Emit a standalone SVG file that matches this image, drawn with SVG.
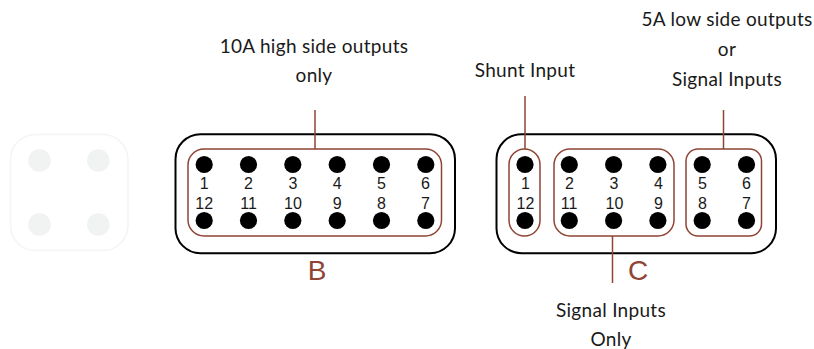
<svg xmlns="http://www.w3.org/2000/svg" width="814" height="349" viewBox="0 0 814 349">
<style>
.body{fill:#fff;stroke:#000;stroke-width:2}
.grp{fill:none;stroke:#8f4434;stroke-width:1.5}
.lead{fill:none;stroke:#8f4434;stroke-width:1.5}
.pin{fill:#000}
.ghost{fill:#f1f2f2}
.num{font-family:"Liberation Sans",Arial,sans-serif;font-size:16px;fill:#1a1a1a;text-anchor:middle}
.lab{font-family:Lato,"Liberation Sans",sans-serif;font-size:19px;letter-spacing:.3px;fill:#1a1a1a;text-anchor:middle}
.big{font-family:"Liberation Sans",Arial,sans-serif;font-size:28px;fill:#8f4434;text-anchor:middle}
</style>
<g id="ghost-connector">
<rect x="10.5" y="134.5" width="117.5" height="116" rx="25" fill="#fff" stroke="#f3f4f4" stroke-width="1.5"/>
<circle class="ghost" cx="39.5" cy="160.5" r="11.3"/><circle class="ghost" cx="98.3" cy="160.5" r="11.3"/>
<circle class="ghost" cx="39.5" cy="224.5" r="11.3"/><circle class="ghost" cx="98.3" cy="224.5" r="11.3"/>
</g>
<g id="connector-b">
<rect class="body" x="175.5" y="134.2" width="279.5" height="119" rx="25"/>
<rect class="grp" x="188" y="149" width="253.5" height="87" rx="16"/>
<g class="pin">
<circle cx="204.2" cy="164.5" r="8.6"/><circle cx="248.5" cy="164.5" r="8.6"/><circle cx="292.8" cy="164.5" r="8.6"/><circle cx="337.2" cy="164.5" r="8.6"/><circle cx="381.5" cy="164.5" r="8.6"/><circle cx="425.8" cy="164.5" r="8.6"/>
<circle cx="204.2" cy="220.5" r="8.6"/><circle cx="248.5" cy="220.5" r="8.6"/><circle cx="292.8" cy="220.5" r="8.6"/><circle cx="337.2" cy="220.5" r="8.6"/><circle cx="381.5" cy="220.5" r="8.6"/><circle cx="425.8" cy="220.5" r="8.6"/>
</g>
<g class="num">
<text x="204.2" y="188.5">1</text><text x="248.5" y="188.5">2</text><text x="293" y="188.5">3</text><text x="337.2" y="188.5">4</text><text x="381.5" y="188.5">5</text><text x="425.5" y="188.5">6</text>
<text x="204.2" y="209">12</text><text x="248.5" y="209">11</text><text x="293" y="209">10</text><text x="337.2" y="209">9</text><text x="381.5" y="209">8</text><text x="425.5" y="209">7</text>
</g>
<text class="big" x="317" y="280">B</text>
</g>
<g id="connector-c">
<rect class="body" x="496.5" y="134.2" width="279.5" height="119" rx="25"/>
<rect class="grp" x="509" y="149" width="31" height="87" rx="15.5"/>
<rect class="grp" x="554" y="149" width="120" height="87" rx="16"/>
<rect class="grp" x="686" y="149" width="75.5" height="87" rx="12"/>
<g class="pin">
<circle cx="525" cy="164.5" r="8.6"/><circle cx="569.3" cy="164.5" r="8.6"/><circle cx="613.6" cy="164.5" r="8.6"/><circle cx="657.9" cy="164.5" r="8.6"/><circle cx="702.2" cy="164.5" r="8.6"/><circle cx="746.5" cy="164.5" r="8.6"/>
<circle cx="525" cy="220.5" r="8.6"/><circle cx="569.3" cy="220.5" r="8.6"/><circle cx="613.6" cy="220.5" r="8.6"/><circle cx="657.9" cy="220.5" r="8.6"/><circle cx="702.2" cy="220.5" r="8.6"/><circle cx="746.5" cy="220.5" r="8.6"/>
</g>
<g class="num">
<text x="525.5" y="188.5">1</text><text x="569.5" y="188.5">2</text><text x="614" y="188.5">3</text><text x="658.5" y="188.5">4</text><text x="702.5" y="188.5">5</text><text x="746.5" y="188.5">6</text>
<text x="525.5" y="209">12</text><text x="569" y="209">11</text><text x="614.5" y="209">10</text><text x="658.5" y="209">9</text><text x="702.5" y="209">8</text><text x="746.5" y="209">7</text>
</g>
<text class="big" x="638" y="280">C</text>
</g>
<g id="connectors">
<path class="lead" d="M315 110V149"/>
<path class="lead" d="M525 96V149"/>
<path class="lead" d="M723.5 110V149"/>
<path class="lead" d="M612.5 236V283"/>
</g>
<g id="labels">
<text class="lab" x="314" y="53">10A high side outputs</text>
<text class="lab" x="314" y="82">only</text>
<text class="lab" x="525" y="77">Shunt Input</text>
<text class="lab" x="727" y="26">5A low side outputs</text>
<text class="lab" x="727" y="56">or</text>
<text class="lab" x="727" y="86">Signal Inputs</text>
<text class="lab" x="611" y="317">Signal Inputs</text>
<text class="lab" x="611" y="346">Only</text>
</g>
</svg>
